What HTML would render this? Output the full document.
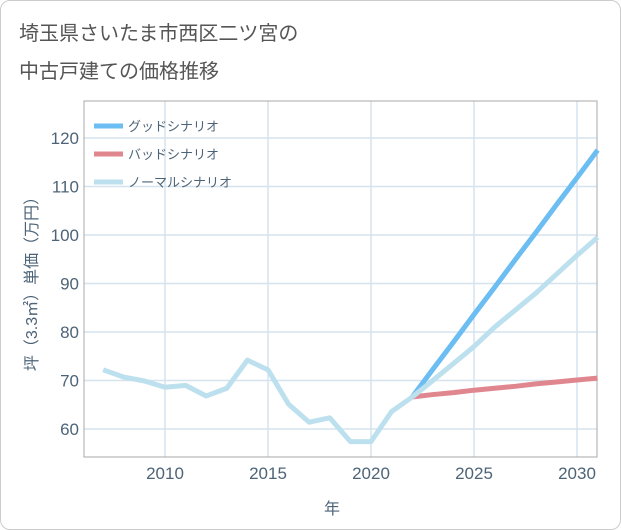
<!DOCTYPE html>
<html><head><meta charset="utf-8"><style>
body{margin:0;background:#fff;}
#wrap{position:relative;width:619px;height:528px;border:1px solid #ccc;border-radius:10px;overflow:hidden;font-family:"Liberation Sans","Noto Sans CJK JP",sans-serif;}
.title{position:absolute;left:18px;font-size:20px;color:#555;}
</style></head><body>
<div id="wrap">
<div class="title" style="top:16px">埼玉県さいたま市西区二ツ宮の</div>
<div class="title" style="top:54px">中古戸建ての価格推移</div>
<svg id="chart" width="621" height="530" style="position:absolute;left:-1px;top:-1px"></svg>
</div>
<script>
const years=[2007,2008,2009,2010,2011,2012,2013,2014,2015,2016,2017,2018,2019,2020,2021,2022];
const histValues=[72.2,70.7,69.9,68.6,69.0,66.8,68.4,74.2,72.2,65.1,61.4,62.3,57.4,57.4,63.6,66.6];
const futureYears=[2022,2023,2024,2025,2026,2027,2028,2029,2030,2031];
const goodValues=[66.6,72.3,77.9,83.6,89.2,94.9,100.5,106.2,111.8,117.5];
const badValues=[66.6,67.1,67.5,68.0,68.4,68.8,69.3,69.7,70.1,70.5];
const normalValues=[66.6,70.0,73.5,77.0,81.0,84.5,88.0,91.9,95.8,99.5];
const xTicks=[2010,2015,2020,2025,2030];
const yTicks=[60,70,80,90,100,110,120];
const L=84,R=597,T=101,B=457;
const TXT='#4d6478';
function xs(y){return 165+(y-2010)*20.6;}
function ys(v){return 138+(120-v)*4.85;}
const svg=document.getElementById('chart');const NS='http://www.w3.org/2000/svg';
function mk(t,a,p){const e=document.createElementNS(NS,t);for(const k in a)e.setAttribute(k,a[k]);(p||svg).appendChild(e);return e;}
xTicks.forEach(t=>{const l=mk('line',{x1:xs(t),x2:xs(t),y1:T,y2:B,stroke:'#d5e3ee','stroke-width':1.5});


const tx=mk('text',{x:xs(t),y:B+22,'text-anchor':'middle','font-size':17,fill:TXT});tx.textContent=t;

});
yTicks.forEach(t=>{const l=mk('line',{x1:L,x2:R,y1:ys(t),y2:ys(t),stroke:'#d5e3ee','stroke-width':1.5});


const tx=mk('text',{x:L-5,y:ys(t)+6,'text-anchor':'end','font-size':17,fill:TXT});tx.textContent=t;

});
const fr=mk('rect',{x:L,y:T,width:R-L,height:B-T,fill:'none',stroke:'#aaa','stroke-width':1});


function line(xa,va,c,n){const p=mk('polyline',{points:xa.map((x,i)=>xs(x)+','+ys(va[i])).join(' '),fill:'none',stroke:c,'stroke-width':5,'stroke-linejoin':'round'});

}
line(futureYears,badValues,'#e0868f','bad-scenario-line');
line(futureYears,goodValues,'#6bbdf2','good-scenario-line');
line(futureYears,normalValues,'#bde0ee','normal-scenario-line');
line(years,histValues,'#bde0ee','historical-line');
const leg=[['グッドシナリオ','#6bbdf2'],['バッドシナリオ','#e0868f'],['ノーマルシナリオ','#bde0ee']];
leg.forEach((d,i)=>{const y=126+i*28;const g=mk('g',{});


mk('line',{x1:94,x2:123,y1:y,y2:y,stroke:d[1],'stroke-width':5},g);
const t=mk('text',{x:128,y:y+5,'font-size':13,fill:TXT},g);t.textContent=d[0];});
const yt=mk('text',{transform:'translate(37,280) rotate(-90)','text-anchor':'middle','font-size':16,fill:TXT});yt.textContent='坪（3.3㎡）単価（万円）';


const xt=mk('text',{x:332,y:514,'text-anchor':'middle','font-size':16,fill:TXT});xt.textContent='年';


</script>
</body></html>
